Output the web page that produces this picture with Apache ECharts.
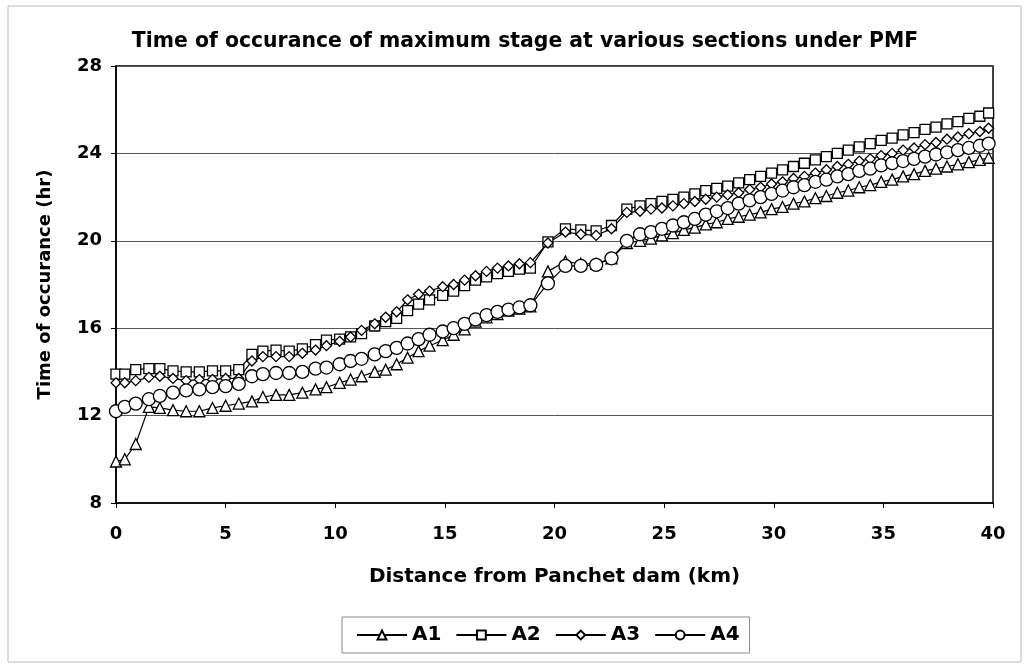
<!DOCTYPE html>
<html><head><meta charset="utf-8">
<script src="https://cdn.jsdelivr.net/npm/echarts@6/dist/echarts.min.js"></script>
<style>html,body{margin:0;padding:0;background:#fff}#c{width:1026px;height:667px}</style>
</head><body><div id="c"></div>
<script>
const distance = [0,0.4,0.9,1.5,2.0,2.6,3.2,3.8,4.4,5.0,5.6,6.2,6.7,7.3,7.9,8.5,9.1,9.6,10.2,10.7,11.2,11.8,12.3,12.8,13.3,13.8,14.3,14.9,15.4,15.9,16.4,16.9,17.4,17.9,18.4,18.9,19.7,20.5,21.2,21.9,22.6,23.3,23.9,24.4,24.9,25.4,25.9,26.4,26.9,27.4,27.9,28.4,28.9,29.4,29.9,30.4,30.9,31.4,31.9,32.4,32.9,33.4,33.9,34.4,34.9,35.4,35.9,36.4,36.9,37.4,37.9,38.4,38.9,39.4,39.8];
const A1 = [9.9,10.0,10.7,12.4,12.35,12.25,12.2,12.2,12.35,12.45,12.55,12.65,12.85,12.95,12.95,13.05,13.2,13.3,13.5,13.65,13.8,14.0,14.1,14.35,14.65,14.95,15.2,15.45,15.7,15.95,16.3,16.5,16.65,16.8,16.9,17.0,18.6,19.05,18.95,18.95,19.2,19.9,20.0,20.1,20.25,20.35,20.5,20.6,20.75,20.85,21.0,21.1,21.2,21.3,21.45,21.55,21.7,21.8,21.95,22.05,22.2,22.3,22.45,22.55,22.7,22.8,22.95,23.05,23.2,23.3,23.4,23.5,23.6,23.7,23.8];
const A2 = [13.9,13.9,14.1,14.15,14.15,14.05,14.0,14.0,14.05,14.05,14.1,14.8,14.95,15.0,14.95,15.05,15.25,15.45,15.5,15.6,15.75,16.1,16.3,16.45,16.8,17.1,17.3,17.5,17.7,17.95,18.2,18.35,18.5,18.6,18.7,18.75,19.95,20.55,20.5,20.45,20.7,21.45,21.6,21.7,21.8,21.9,22.0,22.15,22.3,22.4,22.5,22.65,22.8,22.95,23.1,23.25,23.4,23.55,23.7,23.85,24.0,24.15,24.3,24.45,24.6,24.7,24.85,24.95,25.1,25.2,25.35,25.45,25.6,25.7,25.85];
const A3 = [13.5,13.5,13.6,13.75,13.8,13.7,13.6,13.65,13.65,13.7,13.7,14.5,14.7,14.7,14.7,14.85,15.0,15.2,15.4,15.6,15.9,16.2,16.5,16.75,17.3,17.55,17.7,17.9,18.0,18.2,18.4,18.6,18.75,18.85,18.95,19.0,19.9,20.4,20.3,20.25,20.55,21.3,21.35,21.45,21.5,21.6,21.7,21.8,21.9,22.0,22.1,22.2,22.35,22.45,22.6,22.7,22.85,22.95,23.1,23.25,23.4,23.5,23.65,23.75,23.9,24.0,24.15,24.25,24.4,24.5,24.65,24.75,24.9,25.0,25.15];
const A4 = [12.2,12.4,12.55,12.75,12.9,13.05,13.15,13.2,13.3,13.35,13.45,13.8,13.9,13.95,13.95,14.0,14.15,14.2,14.35,14.5,14.6,14.8,14.95,15.1,15.3,15.5,15.7,15.85,16.0,16.2,16.4,16.6,16.75,16.85,16.95,17.05,18.05,18.85,18.85,18.9,19.2,20.0,20.3,20.4,20.55,20.7,20.85,21.0,21.2,21.35,21.5,21.7,21.85,22.0,22.15,22.3,22.45,22.55,22.7,22.8,22.95,23.05,23.2,23.3,23.45,23.55,23.65,23.75,23.85,23.95,24.05,24.15,24.25,24.35,24.45];
const seriesNames = ['A1','A2','A3','A4'];
const seriesSymbols = ['triangle','rect','diamond','circle'];
const seriesSizes = [11,10,10,13];

const chart = echarts.init(document.getElementById('c'), null, {renderer:'canvas'});
const font = 'DejaVu Sans, sans-serif';
const dataSets = [A1,A2,A3,A4];
const series = dataSets.map((vals,i)=>({
  name: seriesNames[i], type:'line',
  data: vals.map((v,j)=>[distance[j], v]),
  symbol: seriesSymbols[i], symbolSize: seriesSizes[i], showAllSymbol:true,
  lineStyle:{color:'#000', width:1.2},
  itemStyle:{color:'#fff', borderColor:'#000', borderWidth:1.3},
  emphasis:{disabled:true}, animation:false
}));
chart.setOption({
  backgroundColor:'#fff',
  animation:false,
  title:{text:'Time of occurance of maximum stage at various sections under PMF', left:520, textAlign:'center', top:27,
    textStyle:{fontFamily:font, fontWeight:'bold', fontSize:20.4, color:'#000'}},
  graphic:[{type:'rect', shape:{x:8,y:6,width:1013,height:656}, style:{fill:'none', stroke:'#bbb', lineWidth:1}, silent:true}],
  grid:{left:116, right:33, top:66, bottom:164, show:true, borderColor:'#000', borderWidth:1.5, backgroundColor:'transparent'},
  legend:{data:seriesNames, left:342, top:617, itemWidth:50, itemHeight:11, itemGap:14,
    borderColor:'#888', borderWidth:1, padding:[8,10,8,14],
    textStyle:{fontFamily:font, fontWeight:'bold', fontSize:20, color:'#000'}},
  xAxis:{type:'value', min:0, max:40, interval:5,
    name:'Distance from Panchet dam (km)', nameLocation:'middle', nameGap:64,
    nameTextStyle:{fontFamily:font, fontWeight:'bold', fontSize:20, color:'#000'},
    axisLine:{lineStyle:{color:'#000', width:1.5}}, axisTick:{show:true, length:5, lineStyle:{color:'#000'}},
    axisLabel:{margin:22, fontFamily:font, fontWeight:'bold', fontSize:18, color:'#000'},
    splitLine:{show:false}},
  yAxis:{type:'value', min:8, max:28, interval:4,
    name:'Time of occurance (hr)', nameLocation:'middle', nameGap:62, nameRotate:90,
    nameTextStyle:{fontFamily:font, fontWeight:'bold', fontSize:18, color:'#000'},
    axisLine:{lineStyle:{color:'#000', width:1.5}}, axisTick:{show:true, length:5, lineStyle:{color:'#000'}},
    axisLabel:{margin:14, fontFamily:font, fontWeight:'bold', fontSize:18, color:'#000'},
    splitLine:{show:true, lineStyle:{color:'#555', width:1}}},
  series: series
});
</script></body></html>
